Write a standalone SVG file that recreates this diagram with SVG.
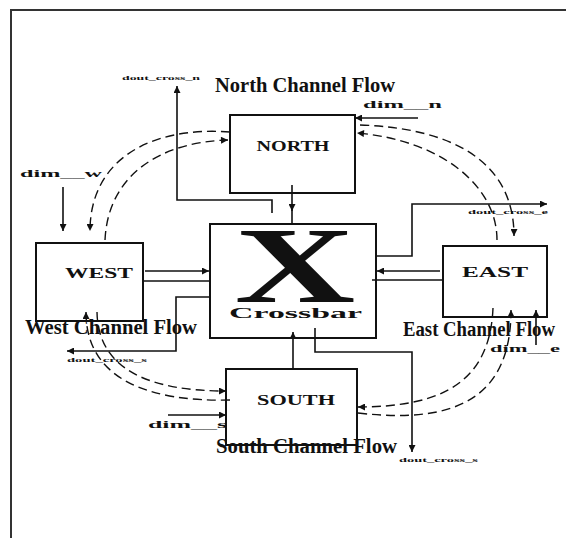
<svg xmlns="http://www.w3.org/2000/svg" width="566" height="538" viewBox="0 0 566 538">
<style>
.box{fill:#fff;stroke:#111;stroke-width:2}
.ln{fill:none;stroke:#111;stroke-width:1.6}
.dash{fill:none;stroke:#111;stroke-width:1.4;stroke-dasharray:9,5}
.lbl{font-family:"Liberation Serif","Times New Roman",serif;font-weight:bold;fill:#111}
.big{font-size:20px}
.nm{font-size:15px;text-anchor:middle}
.dim{font-size:11px}
.tiny{font-size:7px}
</style>
<defs>
<marker id="ah" viewBox="0 0 10 10" refX="10" refY="5" markerWidth="9" markerHeight="7" markerUnits="userSpaceOnUse" orient="auto">
<path d="M0,0 L10,5 L0,10 z" fill="#111"/>
</marker>
</defs>
<g id="frame">
<path d="M11,538 L11,10 L566,10" fill="none" stroke="#333" stroke-width="2"/>
</g>
<g id="north"><rect class="box" x="230" y="115" width="125" height="78"/><text class="lbl nm" x="293" y="151" textLength="73" lengthAdjust="spacingAndGlyphs">NORTH</text></g>
<g id="west"><rect class="box" x="36" y="243" width="107" height="78"/><text class="lbl nm" x="99" y="278" textLength="68" lengthAdjust="spacingAndGlyphs">WEST</text></g>
<g id="east"><rect class="box" x="443" y="246" width="104" height="71"/><text class="lbl nm" x="495" y="277" textLength="66" lengthAdjust="spacingAndGlyphs">EAST</text></g>
<g id="south"><rect class="box" x="226" y="369" width="131" height="76"/><text class="lbl nm" x="296" y="405" textLength="78" lengthAdjust="spacingAndGlyphs">SOUTH</text></g>
<g id="crossbar"><rect class="box" x="210" y="224" width="166" height="114"/>
<text class="lbl" font-size="108" text-anchor="middle" transform="translate(295,302) scale(1.55,1)">X</text>
<text class="lbl" font-size="15" x="229" y="318" textLength="133" lengthAdjust="spacingAndGlyphs">Crossbar</text></g>
<g id="connectors">
<polyline class="ln" points="272,213 272,200 177,200 177,86" marker-end="url(#ah)"/>
<line class="ln" x1="292" y1="185" x2="292" y2="211" marker-end="url(#ah)"/>
<line class="ln" x1="292" y1="208" x2="292" y2="224"/>
<line class="ln" x1="418" y1="118" x2="355" y2="118" marker-end="url(#ah)"/>
<polyline class="ln" points="377,256 412,256 412,204 547,204" marker-end="url(#ah)"/>
<line class="ln" x1="440" y1="271" x2="377" y2="271" marker-end="url(#ah)"/>
<line class="ln" x1="443" y1="280" x2="372" y2="280"/>
<line class="ln" x1="145" y1="271" x2="209" y2="271" marker-end="url(#ah)"/>
<line class="ln" x1="142" y1="281" x2="209" y2="281"/>
<polyline class="ln" points="209,297 176,297 176,351 67,351" marker-end="url(#ah)"/>
<line class="ln" x1="63" y1="187" x2="63" y2="231" marker-end="url(#ah)"/>
<line class="ln" stroke-width="2" x1="293" y1="369" x2="293" y2="332" marker-end="url(#ah)"/>
<polyline class="ln" points="315,328 315,352 412,352 412,452" marker-end="url(#ah)"/>
<line class="ln" x1="168" y1="415" x2="226" y2="415" marker-end="url(#ah)"/>
<line class="ln" x1="536" y1="345" x2="536" y2="310" marker-end="url(#ah)"/>
<path class="dash" d="M230,132 C150,126 90,160 90,231" marker-end="url(#ah)"/>
<path class="dash" d="M105,240 C108,175 160,142 228,140" marker-end="url(#ah)"/>
<path class="dash" d="M360,125 C450,128 514,160 514,236" marker-end="url(#ah)"/>
<path class="dash" d="M497,240 C497,185 440,140 357,133" marker-end="url(#ah)"/>
<path class="dash" d="M493,308 C490,380 445,407 358,407" marker-end="url(#ah)"/>
<path class="dash" d="M358,413 C460,425 511,395 511,310" marker-end="url(#ah)"/>
<path class="dash" d="M230,400 C150,402 86,380 86,312" marker-end="url(#ah)"/>
<path class="dash" d="M97,312 C98,370 150,391 226,391" marker-end="url(#ah)"/>
</g>
<g id="labels">
<text class="lbl big" x="215" y="92" textLength="180" lengthAdjust="spacingAndGlyphs">North Channel Flow</text>
<text class="lbl big" x="25" y="334" textLength="172" lengthAdjust="spacingAndGlyphs">West Channel Flow</text>
<text class="lbl big" x="403" y="336" textLength="152" lengthAdjust="spacingAndGlyphs">East Channel Flow</text>
<text class="lbl big" x="216" y="453" textLength="181" lengthAdjust="spacingAndGlyphs">South Channel Flow</text>
<text class="lbl dim" x="363" y="108" textLength="79" lengthAdjust="spacingAndGlyphs">dim__n</text>
<text class="lbl dim" x="20" y="177" textLength="82" lengthAdjust="spacingAndGlyphs">dim__w</text>
<text class="lbl dim" x="148" y="428" textLength="79" lengthAdjust="spacingAndGlyphs">dim__s</text>
<text class="lbl dim" x="490" y="352" textLength="70" lengthAdjust="spacingAndGlyphs">dim__e</text>
<text class="lbl tiny" x="122" y="80" textLength="78" lengthAdjust="spacingAndGlyphs">dout_cross_n</text>
<text class="lbl tiny" x="468" y="214" textLength="80" lengthAdjust="spacingAndGlyphs">dout_cross_e</text>
<text class="lbl tiny" x="67" y="362" textLength="80" lengthAdjust="spacingAndGlyphs">dout_cross_s</text>
<text class="lbl tiny" x="399" y="462" textLength="79" lengthAdjust="spacingAndGlyphs">dout_cross_s</text>
</g>
</svg>
